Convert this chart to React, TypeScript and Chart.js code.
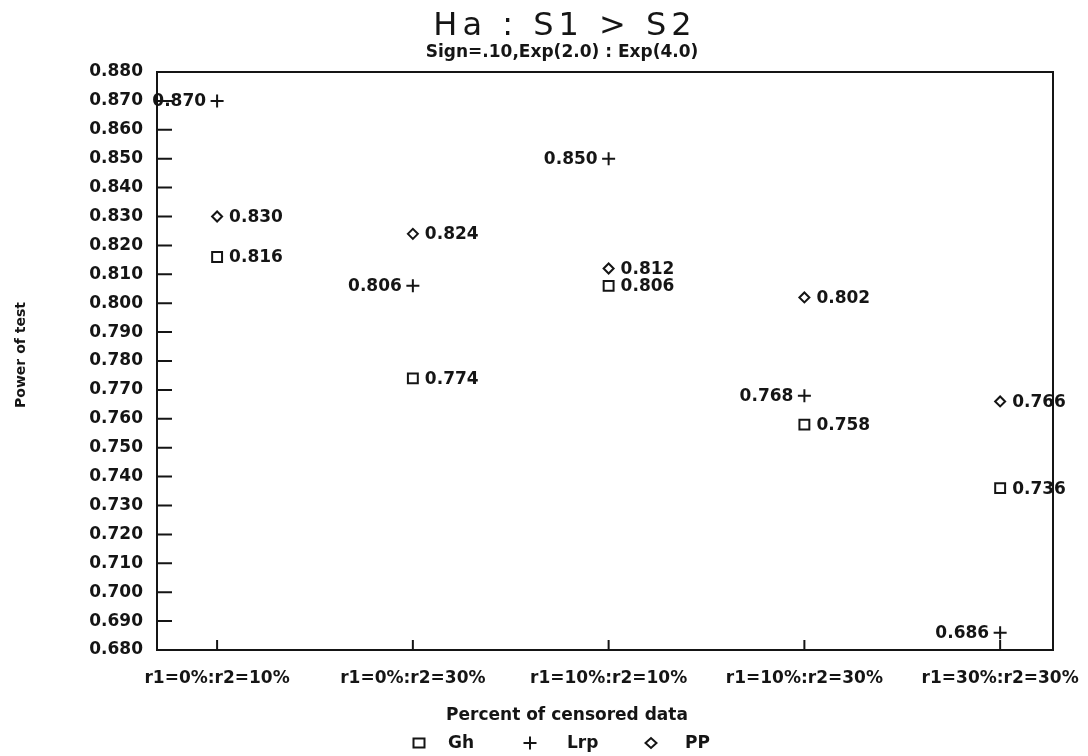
import React, { useEffect, useRef } from 'react';
import { Chart, registerables } from 'chart.js';

Chart.register(...registerables);

const categories = ['r1=0%:r2=10%', 'r1=0%:r2=30%', 'r1=10%:r2=10%', 'r1=10%:r2=30%', 'r1=30%:r2=30%'];
const seriesNames = ['Gh', 'Lrp', 'PP'];
const ghValues = [0.816, 0.774, 0.806, 0.758, 0.736];
const lrpValues = [0.870, 0.806, 0.850, 0.768, 0.686];
const ppValues = [0.830, 0.824, 0.812, 0.802, 0.766];
const yTickValues = [0.68, 0.69, 0.70, 0.71, 0.72, 0.73, 0.74, 0.75, 0.76, 0.77, 0.78, 0.79, 0.80, 0.81, 0.82, 0.83, 0.84, 0.85, 0.86, 0.87, 0.88];
const titleText = 'Ha : S1 > S2';
const subtitleText = 'Sign=.10,Exp(2.0) : Exp(4.0)';
const xAxisTitle = 'Percent of censored data';
const yAxisTitle = 'Power of test';

const FONT = "'DejaVu Sans', sans-serif";
const INK = '#151515';

function drawMarker(ctx: CanvasRenderingContext2D, kind: string, x: number, y: number) {
  ctx.beginPath();
  if (kind === 'rect') {
    ctx.rect(x - 5.5, y - 4.5, 11, 9);
  } else if (kind === 'cross') {
    ctx.moveTo(x - 6.5, y); ctx.lineTo(x + 6.5, y);
    ctx.moveTo(x, y - 6.5); ctx.lineTo(x, y + 6.5);
  } else {
    ctx.moveTo(x - 5.5, y); ctx.lineTo(x, y - 5); ctx.lineTo(x + 5.5, y); ctx.lineTo(x, y + 5); ctx.closePath();
  }
  ctx.stroke();
}

const decorPlugin = {
  id: 'decor',
  afterDraw(chart: any) {
    const { ctx, chartArea: a, scales } = chart;
    ctx.save();
    ctx.strokeStyle = INK;
    ctx.fillStyle = INK;
    // frame
    ctx.lineWidth = 2;
    ctx.strokeRect(a.left, a.top, a.right - a.left, a.bottom - a.top);
    // inward tick marks
    ctx.beginPath();
    yTickValues.forEach((v) => {
      const y = scales.y.getPixelForValue(v);
      ctx.moveTo(a.left, y);
      ctx.lineTo(a.left + 15, y);
    });
    categories.forEach((_c, i) => {
      const x = scales.x.getPixelForValue(i);
      ctx.moveTo(x, a.bottom);
      ctx.lineTo(x, a.bottom - 10);
    });
    ctx.stroke();

    // data labels
    ctx.font = `bold 17px ${FONT}`;
    ctx.textBaseline = 'middle';
    const all = [ghValues, lrpValues, ppValues];
    all.forEach((vals, di) => {
      const meta = chart.getDatasetMeta(di);
      meta.data.forEach((pt: any, i: number) => {
        const txt = vals[i].toFixed(3);
        if (di === 1) {
          ctx.textAlign = 'right';
          ctx.fillText(txt, pt.x - 11, pt.y + 1);
        } else {
          ctx.textAlign = 'left';
          ctx.fillText(txt, pt.x + 12, pt.y + 1);
        }
      });
    });

    // title
    ctx.textAlign = 'center';
    ctx.textBaseline = 'alphabetic';
    ctx.font = `32px ${FONT}`;
    (ctx as any).letterSpacing = '5px';
    ctx.fillText(titleText, 565, 35);
    (ctx as any).letterSpacing = '0px';
    ctx.font = `bold 17px ${FONT}`;
    ctx.fillText(subtitleText, 562, 57);

    // x axis title
    ctx.font = `bold 17px ${FONT}`;
    ctx.textBaseline = 'middle';
    ctx.fillText(xAxisTitle, 567, 716);

    // y axis title
    ctx.save();
    ctx.translate(21, 355);
    ctx.rotate(-Math.PI / 2);
    ctx.font = `bold 14px ${FONT}`;
    ctx.fillText(yAxisTitle, 0, 0);
    ctx.restore();

    // legend
    const legendY = 743;
    const legendItems = [
      { kind: 'rect', mx: 419, tx: 448 },
      { kind: 'cross', mx: 530, tx: 567 },
      { kind: 'rectRot', mx: 651, tx: 685 },
    ];
    ctx.lineWidth = 2;
    ctx.textAlign = 'left';
    ctx.font = `bold 17px ${FONT}`;
    legendItems.forEach((it, i) => {
      drawMarker(ctx, it.kind, it.mx, legendY);
      ctx.fillText(seriesNames[i], it.tx, legendY + 1);
    });
    ctx.restore();
  },
};

export default function App() {
  const ref = useRef<HTMLCanvasElement | null>(null);
  useEffect(() => {
    if (!ref.current) return;
    const mk = (vals: number[]) => vals.map((v, i) => ({ x: i, y: v }));
    const common = {
      showLine: false,
      borderColor: INK,
      backgroundColor: 'rgba(0,0,0,0)',
      pointBorderWidth: 2,
    };
    const chart = new Chart(ref.current, {
      type: 'scatter',
      data: {
        datasets: [
          { ...common, label: seriesNames[0], data: mk(ghValues), pointStyle: 'rect', pointRadius: 7 },
          { ...common, label: seriesNames[1], data: mk(lrpValues), pointStyle: 'cross', pointRadius: 6.5 },
          { ...common, label: seriesNames[2], data: mk(ppValues), pointStyle: 'rectRot', pointRadius: 5 },
        ],
      },
      options: {
        responsive: false,
        animation: false,
        events: [],
        layout: { padding: { top: 72, right: 35, left: 0, bottom: 0 } },
        plugins: { legend: { display: false }, title: { display: false }, tooltip: { enabled: false } },
        scales: {
          x: {
            type: 'linear',
            min: -0.307,
            max: 4.27,
            grid: { display: false, drawTicks: false },
            border: { display: false },
            afterFit: (s: any) => { s.height = 106; s.paddingLeft = 0; s.paddingRight = 0; },
            afterBuildTicks: (s: any) => { s.ticks = categories.map((_c, i) => ({ value: i })); },
            ticks: {
              padding: 18,
              color: INK,
              font: { family: FONT, size: 17, weight: 'bold' },
              maxRotation: 0,
              autoSkip: false,
              callback: (v: any) => categories[Math.round(Number(v))] ?? '',
            },
          },
          y: {
            type: 'linear',
            min: 0.68,
            max: 0.88,
            grid: { display: false, drawTicks: false },
            border: { display: false },
            afterFit: (s: any) => { s.width = 157; s.paddingTop = 0; s.paddingBottom = 0; },
            afterBuildTicks: (s: any) => { s.ticks = yTickValues.map((v) => ({ value: v })); },
            ticks: {
              padding: 14,
              color: INK,
              font: { family: FONT, size: 17, weight: 'bold' },
              autoSkip: false,
              callback: (v: any) => Number(v).toFixed(3),
            },
          },
        },
      },
      plugins: [decorPlugin],
    } as any);
    return () => chart.destroy();
  }, []);
  return (
    <div style={{ position: 'fixed', left: 0, top: 0, width: 1088, height: 756, background: '#fff' }}>
      <canvas ref={ref} width={1088} height={756} />
    </div>
  );
}
